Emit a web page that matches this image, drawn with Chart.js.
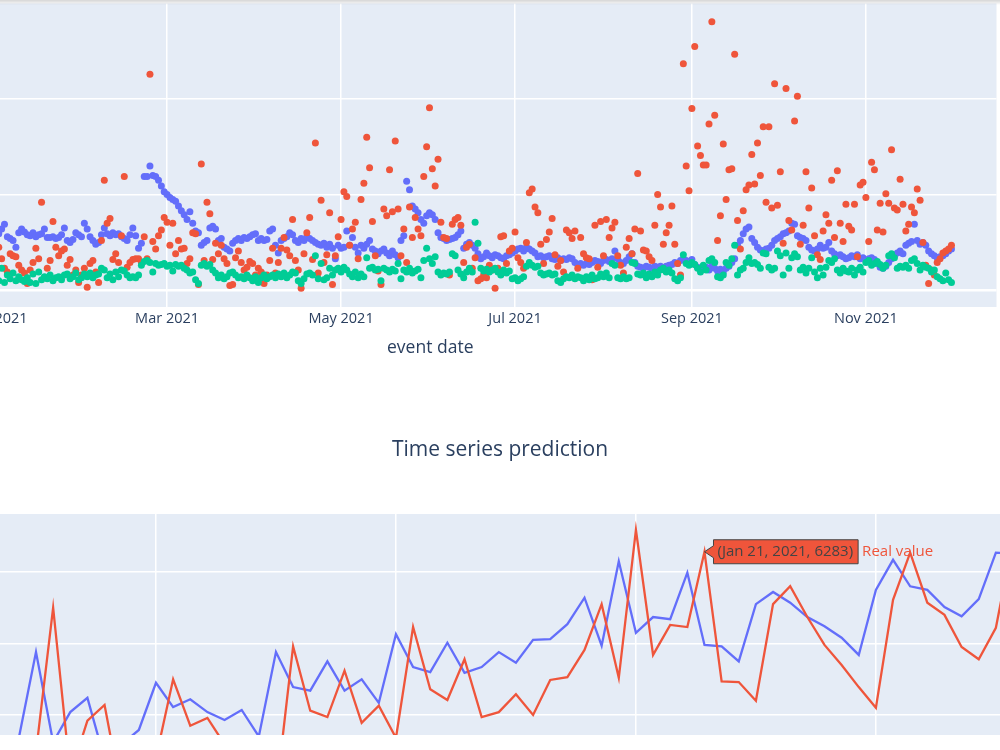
<!DOCTYPE html>
<html>
<head>
<meta charset="utf-8">
<script src="https://cdn.jsdelivr.net/npm/chart.js@4.4.1/dist/chart.umd.min.js"></script>
<style>
  html, body { margin: 0; padding: 0; background: #fff; overflow: hidden; }
  body { width: 1000px; height: 750px; position: relative; }
  #header-shadow { position: absolute; left: 0; top: 0; width: 1000px; height: 5px; z-index: 2;
    background: linear-gradient(rgba(0,0,0,0.16), rgba(0,0,0,0)); }
  #events-wrap { position: absolute; left: -300px; top: 0; }
  #prediction-wrap { position: absolute; left: 0; top: 430px; }
</style>
</head>
<body>
<div id="header-shadow"></div>
<div id="events-wrap"><canvas id="eventChart" width="1300" height="367"></canvas></div>
<div id="prediction-wrap"><canvas id="predictionChart" width="1000" height="305"></canvas></div>
<script>
const DAY = 86400000;

// ---- top chart: daily values from 2021-01-01 ----
const eventStart = Date.UTC(2021, 0, 1);
const eventTickDates = [Date.UTC(2021, 0, 1), Date.UTC(2021, 2, 1), Date.UTC(2021, 4, 1), Date.UTC(2021, 6, 1), Date.UTC(2021, 8, 1), Date.UTC(2021, 10, 1)];
const eventTickLabels = ["Jan 2021", "Mar 2021", "May 2021", "Jul 2021", "Sep 2021", "Nov 2021"];
const eventYTicks = [0, 1000, 2000];

const blueVals = [
  590, 640, 690, 560, 540, 520, 450, 600, 640, 610,
  580, 570, 600, 560, 580, 590, 640, 550, 550, 560,
  540, 550, 580, 650, 520, 500, 530, 600, 580, 560,
  700, 640, 560, 520, 480, 500, 580, 650, 590, 570,
  600, 580, 590, 560, 540, 520, 580, 650, 570, 440,
  490, 1190, 1190, 1300, 1200, 1190, 1150, 1090, 1030, 1000,
  970, 950, 930, 880, 830, 790, 740, 820, 700, 620,
  600, 470, 500, 520, 650, 670, 640, 520, 540, 450,
  430, 410, 490, 520, 540, 520, 550, 540, 560, 580,
  590, 520, 540, 520, 530, 620, 640, 470, 390, 520,
  540, 560, 600, 580, 520, 500, 540, 520, 560, 540,
  520, 500, 480, 470, 490, 450, 480, 440, 330, 470,
  440, 450, 620, 470, 550, 450, 390, 470, 440, 480,
  520, 430, 410, 380, 410, 430, 390, 360, 410, 370,
  340, 520, 570, 1140, 1050, 880, 850, 810, 740, 700,
  780, 810, 790, 740, 600, 550, 540, 520, 530, 540,
  550, 580, 620, 440, 480, 500, 470, 440, 380, 330,
  350, 390, 360, 340, 370, 360, 340, 330, 360, 370,
  390, 410, 430, 440, 410, 450, 430, 410, 390, 350,
  360, 340, 350, 360, 330, 320, 340, 310, 330, 320,
  340, 330, 290, 270, 280, 260, 280, 270, 290, 310,
  300, 280, 310, 320, 300, 330, 410, 330, 290, 280,
  310, 350, 380, 290, 250, 240, 230, 250, 240, 230,
  250, 240, 250, 230, 250, 260, 270, 290, 280, 310,
  330, 310, 290, 320, 270, 240, 230, 220, 240, 210,
  250, 230, 200, 220, 190, 230, 250, 290, 330, 470,
  520, 590, 640, 660, 540, 500, 450, 420, 410, 430,
  440, 470, 520, 540, 560, 590, 600, 620, 700, 690,
  570, 550, 540, 520, 450, 420, 410, 430, 470, 440,
  450, 500, 410, 380, 360, 370, 350, 330, 340, 360,
  350, 370, 330, 340, 310, 330, 340, 320, 280, 240,
  230, 250, 290, 330, 360, 390, 410, 380, 470, 490,
  510, 690, 520, 480, 500, 470, 410, 380, 360, 340,
  350, 360, 380, 410, 430
];

const redVals = [
  450, 330, 230, 190, 380, 360, 350, 260, 210, 180,
  70, 210, 290, 440, 330, 920, 130, 230, 310, 720,
  450, 360, 410, 430, 260, 320, 160, 210, 80, 160,
  230, 30, 280, 310, 190, 80, 520, 1150, 700, 750,
  320, 380, 290, 570, 1190, 240, 290, 320, 330, 330,
  290, 560, 330, 2260, 510, 430, 570, 630, 760, 710,
  470, 700, 380, 520, 430, 440, 280, 330, 600, 590,
  60, 1320, 310, 920, 800, 320, 490, 380, 470, 330,
  280, 50, 60, 340, 410, 290, 210, 240, 300, 280,
  160, 230, 190, 70, 160, 310, 440, 180, 290, 440,
  550, 420, 360, 740, 310, 210, 20, 380, 600, 760,
  320, 1540, 180, 940, 290, 370, 810, 60, 360, 560,
  740, 1030, 980, 470, 640, 710, 330, 950, 1120, 1600,
  1280, 720, 360, 200, 60, 850, 780, 1260, 820, 1560,
  850, 360, 640, 290, 870, 550, 760, 640, 570, 1190,
  1500, 1910, 1270, 1090, 1370, 710, 550, 540, 160, 690,
  740, 760, 680, 290, 450, 480, 230, 340, 100, 120,
  160, 130, 260, 210, 20, 230, 560, 570, 280, 410,
  440, 610, 340, 290, 230, 500, 1020, 1060, 870, 810,
  480, 280, 530, 610, 750, 370, 250, 310, 190, 630,
  600, 540, 620, 230, 550, 380, 340, 330, 110, 680,
  240, 720, 360, 740, 550, 650, 710, 360, 260, 180,
  450, 540, 380, 640, 1220, 620, 420, 410, 350, 310,
  680, 1000, 870, 480, 600, 680, 880, 480, 280, 160,
  2370, 1300, 1040, 1900, 2550, 1510, 1410, 1310, 1310, 1740,
  2810, 1830, 520, 780, 1530, 950, 1260, 1270, 2470, 730,
  430, 830, 1050, 1100, 1420, 1110, 1540, 1200, 1710, 920,
  1710, 860, 2160, 890, 1240, 490, 2110, 730, 630, 1770,
  2030, 480, 680, 1240, 860, 1070, 570, 370, 320, 620,
  790, 700, 1150, 550, 1250, 700, 510, 900, 670, 630,
  900, 350, 1100, 1130, 970, 510, 1340, 1260, 630, 910,
  610, 1010, 910, 1470, 860, 840, 1160, 900, 620, 690,
  870, 810, 1060, 940, 500, 260, 70, 210, 160, 290,
  330, 390, 410, 430, 470
];

const greenVals = [
  100, 230, 80, 160, 120, 180, 100, 140, 110, 90,
  130, 80, 170, 70, 190, 110, 140, 120, 160, 100,
  130, 140, 110, 160, 170, 120, 140, 180, 110, 130,
  170, 140, 180, 130, 160, 170, 230, 210, 130, 170,
  110, 190, 140, 210, 200, 160, 130, 140, 130, 160,
  260, 300, 310, 290, 190, 280, 260, 270, 280, 250,
  260, 200, 270, 250, 260, 230, 210, 180, 190, 110,
  70, 260, 280, 250, 270, 210, 180, 130, 160, 120,
  140, 180, 190, 160, 130, 140, 120, 160, 130, 100,
  140, 80, 130, 160, 120, 140, 160, 130, 170, 140,
  180, 130, 160, 190, 180, 100, 70, 120, 170, 180,
  160, 360, 120, 280, 110, 130, 230, 160, 210, 230,
  190, 240, 210, 170, 140, 190, 130, 170, 140, 340,
  230, 240, 210, 220, 100, 230, 210, 190, 220, 200,
  280, 120, 210, 190, 230, 180, 200, 220, 130, 310,
  440, 330, 280, 350, 190, 160, 180, 170, 190, 380,
  360, 210, 170, 130, 190, 230, 190, 710, 490, 230,
  200, 220, 190, 210, 230, 190, 160, 210, 180, 200,
  120, 130, 100, 120, 140, 250, 290, 260, 240, 250,
  180, 160, 170, 180, 160, 170, 100, 80, 120, 140,
  130, 160, 120, 140, 130, 100, 140, 110, 160, 120,
  130, 170, 140, 180, 130, 280, 260, 130, 120, 140,
  120, 130, 290, 280, 170, 160, 180, 130, 170, 140,
  190, 160, 210, 230, 190, 210, 180, 120, 100, 130,
  370, 280, 260, 290, 270, 230, 190, 260, 210, 310,
  330, 290, 140, 130, 160, 290, 260, 330, 470, 160,
  210, 230, 290, 340, 280, 290, 270, 230, 390, 380,
  240, 210, 230, 410, 360, 160, 390, 230, 340, 380,
  350, 210, 240, 180, 230, 340, 190, 130, 230, 160,
  240, 310, 290, 330, 210, 180, 230, 200, 190, 230,
  160, 210, 240, 190, 290, 310, 260, 280, 300, 270,
  230, 260, 360, 380, 340, 230, 250, 240, 260, 230,
  310, 330, 280, 210, 260, 240, 230, 190, 210, 140,
  120, 100, 180, 110, 80
];

// ---- bottom chart: daily values from 2020-12-10 ----
const predStart = Date.UTC(2020, 11, 10);
const predGridDates = [Date.UTC(2020, 11, 20), Date.UTC(2021, 0, 3), Date.UTC(2021, 0, 17), Date.UTC(2021, 0, 31)];
const predYTicks = [4000, 5000, 6000];

const predictionVals = [
  3400, 3500, 3680, 4880, 3620, 4040, 4240, 3380, 3590, 3790,
  4450, 4110, 4220, 4040, 3930, 4070, 3700, 4880, 4390, 4340,
  4750, 4340,
  4500, 4170, 5130, 4670, 4600, 5010, 4590, 4670, 4880, 4730,
  5050, 5060, 5270, 5640, 4970, 6150, 5150, 5370, 5340, 5990,
  4980, 4960, 4750, 5550, 5720, 5570, 5370, 5240, 5080, 4840, 5750,
  6170, 5800, 5750, 5510, 5380, 5620, 6270, 6260
];

const realVals = [
  3350, 3300, 3400, 3480, 5500, 3170, 3920, 4140, 2880, 3100,
  3400, 4500, 3850, 3960, 3590, 3400, 3500, 2880, 4960, 4060,
  3970, 4620,
  3890, 4130, 3680, 5230, 4360, 4210, 4780, 3970, 4040, 4290,
  4000, 4490, 4530, 4910, 5550, 4520, 6590, 4840, 5260, 5230,
  6283, 4470, 4460, 4200, 5550, 5800, 5370, 4980, 4700, 4390, 4100,
  5610, 6270, 5570, 5400, 4950, 4780, 5220, 6450
];

const hoverDate = Date.UTC(2021, 0, 21);
const hoverDateLabel = "Jan 21, 2021";
const hoverValue = 6283;

const BLUE = "#636EFA";
const RED = "#EF553B";
const GREEN = "#00CC96";
const TEXT = "#2a3f5f";
const GRID_WIDTH = 1.5;

Chart.defaults.font.family = "'Open Sans', verdana, arial, sans-serif";
Chart.defaults.color = TEXT;

const plotBackground = {
  id: "plotBackground",
  beforeDraw(chart) {
    const { ctx, chartArea } = chart;
    ctx.save();
    ctx.fillStyle = "#E5ECF6";
    ctx.fillRect(chartArea.left, chartArea.top, chartArea.right - chartArea.left, chartArea.bottom - chartArea.top);
    ctx.restore();
  }
};

function toPoints(start, vals) {
  return vals.map((v, i) => ({ x: start + i * DAY, y: v }));
}

function renderEventChart() {
  const ctx = document.getElementById("eventChart").getContext("2d");
  const dot = (label, vals, color) => ({
    label,
    data: toPoints(eventStart, vals),
    pointRadius: 3.5,
    pointHoverRadius: 3.5,
    pointBorderWidth: 0,
    pointBackgroundColor: color,
    borderColor: color,
  });

  new Chart(ctx, {
    type: "scatter",
    // first dataset is painted last
    data: {
      datasets: [
        dot("green", greenVals, GREEN),
        dot("red", redVals, RED),
        dot("blue", blueVals, BLUE),
      ],
    },
    options: {
      responsive: false,
      animation: false,
      layout: { padding: { left: 164, top: 0, right: 0, bottom: 0 } },
      plugins: { legend: { display: false }, tooltip: { enabled: false } },
      scales: {
        x: {
          type: "linear",
          min: Date.UTC(2020, 10, 14, 18),
          max: Date.UTC(2021, 11, 16, 19),
          afterBuildTicks: (axis) => { axis.ticks = eventTickDates.map((v) => ({ value: v })); },
          afterFit: (axis) => { axis.height = 60; },
          ticks: {
            autoSkip: false,
            maxRotation: 0,
            padding: 3,
            font: { size: 14.5 },
            callback: (value, index) => eventTickLabels[index],
          },
          grid: { color: "#ffffff", lineWidth: GRID_WIDTH, drawTicks: false },
          border: { display: false },
          title: { display: true, text: "event date", font: { size: 17.5 }, padding: { top: 0, bottom: 8 } },
        },
        y: {
          min: -176,
          max: 3000,
          afterBuildTicks: (axis) => { axis.ticks = eventYTicks.map((v) => ({ value: v })); },
          ticks: { display: false },
          grid: {
            color: "#ffffff",
            lineWidth: (c) => (c.tick && c.tick.value === 0 ? 2.5 : GRID_WIDTH),
            drawTicks: false,
          },
          border: { display: false },
        },
      },
    },
    plugins: [plotBackground],
  });
}

const hoverLabel = {
  id: "hoverLabel",
  afterDraw(chart) {
    const { ctx, scales } = chart;
    const px = scales.x.getPixelForValue(hoverDate);
    const py = scales.y.getPixelForValue(hoverValue);
    const text = `(${hoverDateLabel}, ${hoverValue})`;
    ctx.save();
    ctx.font = "15px 'Open Sans'";
    const w = ctx.measureText(text).width + 9;
    const h = 24;
    const arrow = 9;
    ctx.beginPath();
    ctx.moveTo(px, py);
    ctx.lineTo(px + arrow, py - 6);
    ctx.lineTo(px + arrow, py - h / 2);
    ctx.lineTo(px + arrow + w, py - h / 2);
    ctx.lineTo(px + arrow + w, py + h / 2);
    ctx.lineTo(px + arrow, py + h / 2);
    ctx.lineTo(px + arrow, py + 6);
    ctx.closePath();
    ctx.fillStyle = RED;
    ctx.fill();
    ctx.strokeStyle = "#444";
    ctx.lineWidth = 1;
    ctx.stroke();
    ctx.textBaseline = "middle";
    ctx.fillStyle = "#444";
    ctx.fillText(text, px + arrow + 4, py);
    ctx.fillStyle = RED;
    ctx.fillText(chart.data.datasets[0].label, px + arrow + w + 4, py);
    ctx.restore();
  }
};

function renderPredictionChart() {
  const ctx = document.getElementById("predictionChart").getContext("2d");
  const line = (label, vals, color) => ({
    label,
    data: toPoints(predStart, vals),
    borderColor: color,
    backgroundColor: color,
    borderWidth: 2.3,
    pointRadius: 0,
    tension: 0,
  });

  new Chart(ctx, {
    type: "line",
    data: {
      datasets: [
        line("Real value", realVals, RED),
        line("Prediction", predictionVals, BLUE),
      ],
    },
    options: {
      responsive: false,
      animation: false,
      plugins: {
        legend: { display: false },
        tooltip: { enabled: false },
        title: {
          display: true,
          text: "Time series prediction",
          font: { size: 21, weight: "normal" },
          color: TEXT,
          padding: { top: 7, bottom: 51.8 },
        },
      },
      scales: {
        x: {
          type: "linear",
          min: Date.UTC(2020, 11, 10, 21, 36),
          max: Date.UTC(2021, 1, 7, 5, 46),
          afterBuildTicks: (axis) => { axis.ticks = predGridDates.map((v) => ({ value: v })); },
          ticks: { display: false },
          grid: { color: "#ffffff", lineWidth: GRID_WIDTH, drawTicks: false },
          border: { display: false },
        },
        y: {
          min: 3720,
          max: 6811,
          afterBuildTicks: (axis) => { axis.ticks = predYTicks.map((v) => ({ value: v })); },
          ticks: { display: false },
          grid: { color: "#ffffff", lineWidth: GRID_WIDTH, drawTicks: false },
          border: { display: false },
        },
      },
    },
    plugins: [plotBackground, hoverLabel],
  });
}

renderEventChart();
renderPredictionChart();
</script>
</body>
</html>
